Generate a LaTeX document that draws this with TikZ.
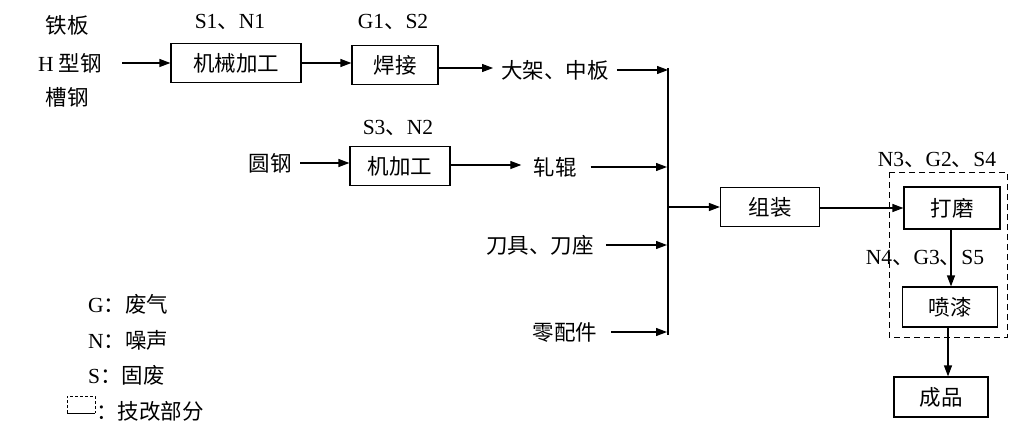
\documentclass[tikz,border=0pt]{standalone}
\usepackage{fontspec}
\setmainfont{Liberation Serif}
\newfontfamily\cjk{Noto Sans CJK SC}
\usetikzlibrary{arrows.meta,calc}
\begin{document}
\begin{tikzpicture}[x=1pt,y=-1pt,
  every node/.style={font=\fontsize{21.5}{23}\selectfont, inner sep=0pt},
  proc/.style={draw, line width=1.2pt, minimum width=#1, minimum height=39pt},
  proc/.default=95pt,
  arr/.style={line width=1.2pt, -{Triangle[length=11pt,width=8pt]}},
  ln/.style={line width=1.2pt}]
\useasboundingbox (0,0) rectangle (1010,428);
% inputs
\node (t1) at (67,25) {\cjk 铁板};
\node (t2) at (70,63) {H {\cjk 型钢}};
\node (t3) at (67,97) {\cjk 槽钢};
\node[proc=130pt] (jx) at (236,63) {\cjk 机械加工};
\node at (230,22) {S1{\cjk 、}N1};
\node[proc=86pt] (hj) at (395,65) {\cjk 焊接};
\node at (393,22) {G1{\cjk 、}S2};
\node (dj) at (555,70) {\cjk 大架、中板};
\draw[arr] (122,63) -- (jx.west);
\draw[arr] (jx.east) -- (hj.west |- jx.east);
\draw[arr] (hj.east |- 0,68) -- ($(dj.west |- 0,68)+(-8,0)$);
% second row
\node (yg) at (270,163) {\cjk 圆钢};
\node[proc=100pt] (jjg) at (400,166) {\cjk 机加工};
\node at (398,128) {S3{\cjk 、}N2};
\node (zg) at (555,167) {\cjk 轧辊};
\draw[arr] (300,163) -- (jjg.west |- 0,163);
\draw[arr] (jjg.east |- 0,165) -- ($(zg.west |- 0,165)+(-12,0)$);
\node (dd) at (540,245) {\cjk 刀具、刀座};
\node (lp) at (565,332) {\cjk 零配件};
% bus
\coordinate (btop) at (668,68);
\coordinate (bbot) at (668,335);
\draw[ln] (btop) -- (bbot);
\draw[arr] ($(dj.east |- 0,70)+(8,0)$) -- (668,70);
\draw[arr] ($(zg.east |- 0,167)+(14,0)$) -- (667,167);
\draw[arr] ($(dd.east |- 0,245)+(12,0)$) -- (667,245);
\draw[arr] ($(lp.east |- 0,332)+(14,0)$) -- (667,332);
% assembly
\node[proc=99pt] (zz) at (770,207) {\cjk 组装};
\draw[arr] (668,207) -- (zz.west);
% dashed region
\draw[line width=0.9pt, dash pattern=on 6pt off 4pt] (889,172) rectangle (1007,337);
\node[proc=96pt, minimum height=42pt] (dm) at (952,208) {\cjk 打磨};
\node at (937,160) {N3{\cjk 、}G2{\cjk 、}S4};
\draw[arr] (zz.east |- 0,208) -- (dm.west);
\node[proc=95pt, minimum height=40pt] (pq) at (950,307) {\cjk 喷漆};
\node at (925,258) {N4{\cjk 、}G3{\cjk 、}S5};
\draw[arr] (dm.south -| 951,0) -- (pq.north -| 951,0);
\node[proc=94pt, minimum height=40pt] (cp) at (941,397) {\cjk 成品};
\draw[arr] (pq.south -| 948,0) -- (cp.north -| 948,0);
% legend
\node[anchor=west] (lg) at (88,304) {G{\cjk ：废气}};
\node[anchor=west] (ln) at (88,340) {N{\cjk ：噪声}};
\node[anchor=west] (ls) at (88,375) {S{\cjk ：固废}};
\draw[line width=0.8pt, dash pattern=on 3pt off 2pt] (67,413) -- (67,396) -- (95,396) -- (95,413);
\draw[line width=1pt] (67,413) -- (95,413);
\node[anchor=west] (lj) at (96,411) {{\cjk ：技改部分}};
\end{tikzpicture}
\end{document}
